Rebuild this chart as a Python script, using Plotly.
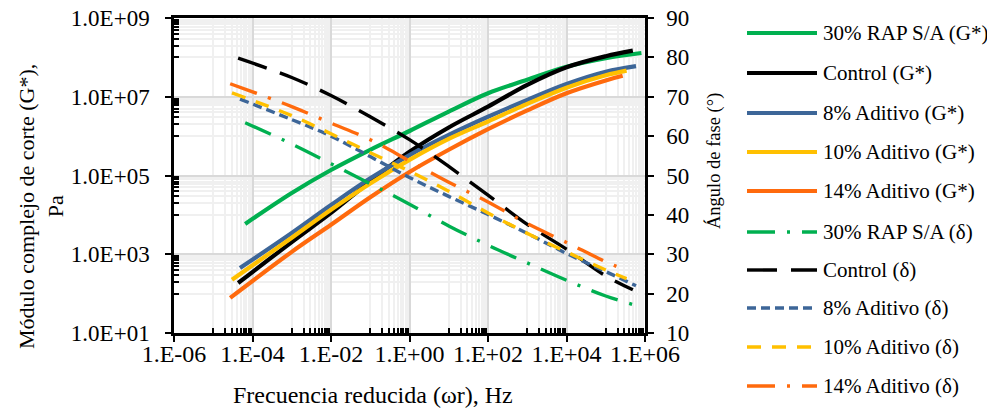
import plotly.graph_objects as go

# ---------------- data ----------------
freq_rap = [6.5e-5, 1e-3, 1e-2, 1e-1, 1e0, 1e1, 1e2, 1e3, 1e4, 1e5, 8.1e5]
freq_control = [4.3e-5, 1e-3, 1e-2, 1e-1, 1e0, 1e1, 1e2, 1e3, 1e4, 1e5, 4.9e5]
freq_a8 = [4.8e-5, 1e-3, 1e-2, 1e-1, 1e0, 1e1, 1e2, 1e3, 1e4, 1e5, 5.9e5]
freq_a10 = [3.0e-5, 1e-3, 1e-2, 1e-1, 1e0, 1e1, 1e2, 1e3, 1e4, 1e5, 3.4e5]
freq_a14 = [2.7e-5, 1e-3, 1e-2, 1e-1, 1e0, 1e1, 1e2, 1e3, 1e4, 1e5, 2.7e5]

g_rap = [5.9e3, 3.6e4, 1.38e5, 4.5e5, 1.35e6, 4.2e6, 1.23e7, 2.7e7, 5.75e7, 9.5e7, 1.29e8]
g_control = [186, 2.04e3, 1.12e4, 7.1e4, 4.0e5, 1.66e6, 5.6e6, 2.0e7, 5.6e7, 1.07e8, 1.48e8]
g_a8 = [447, 3.47e3, 1.78e4, 8.5e4, 3.3e5, 1.07e6, 3.1e6, 8.3e6, 2.1e7, 4.3e7, 6.0e7]
g_a10 = [224, 2.63e3, 1.35e4, 6.3e4, 2.5e5, 8.5e5, 2.35e6, 6.6e6, 1.7e7, 3.5e7, 4.6e7]
g_a14 = [78, 1.15e3, 5.6e3, 2.8e4, 1.23e5, 4.5e5, 1.5e6, 4.5e6, 1.23e7, 2.6e7, 3.4e7]

d_rap = [63.4, 58.0, 53.0, 47.9, 42.7, 37.2, 32.3, 27.8, 23.4, 19.4, 16.6]
d_control = [79.8, 74.9, 70.3, 64.9, 59.1, 52.3, 45.0, 37.6, 31.3, 24.5, 21.0]
d_a8 = [69.4, 64.2, 60.0, 54.8, 49.5, 44.7, 40.1, 35.3, 30.2, 25.6, 22.0]
d_a10 = [71.0, 65.2, 60.6, 55.8, 51.1, 46.0, 40.5, 35.3, 30.6, 26.0, 23.8]
d_a14 = [73.3, 67.5, 63.3, 59.1, 53.7, 48.3, 43.3, 37.8, 33.0, 28.1, 26.3]

x_tickvals = [1e-6, 1e-4, 1e-2, 1e0, 1e2, 1e4, 1e6]
x_ticktext = ["1.E-06", "1.E-04", "1.E-02", "1.E+00", "1.E+02", "1.E+04", "1.E+06"]
y_tickvals = [1e1, 1e3, 1e5, 1e7, 1e9]
y_ticktext = ["1.0E+01", "1.0E+03", "1.0E+05", "1.0E+07", "1.0E+09"]

names_g = ["30% RAP S/A (G*)", "Control (G*)", "8% Aditivo (G*)", "10% Aditivo (G*)", "14% Aditivo (G*)"]
names_d = ["30% RAP S/A (δ)", "Control (δ)", "8% Aditivo (δ)", "10% Aditivo (δ)", "14% Aditivo (δ)"]

# ---------------- style ----------------
FONT = "Liberation Serif"
colors = ["#00B050", "#000000", "#3D6698", "#FFC000", "#FF6A0D"]
dashes = ["28px,12px,3px,12px", "30px,14px", "9px,5px", "14px,11px", "28px,12px,3px,12px"]
GW = 4.2
DW = 3.4

# page body has an 8px margin; positions below are screen pixels of the reference
OFF = 8
W, H = 995 - OFF, 411 - OFF
L, R, T, B = 174 - OFF, 645 - OFF, 18 - OFF, 333 - OFF

freqs = [freq_rap, freq_control, freq_a8, freq_a10, freq_a14]
gs = [g_rap, g_control, g_a8, g_a10, g_a14]
ds = [d_rap, d_control, d_a8, d_a10, d_a14]

fig = go.Figure()
for i in range(5):
    fig.add_trace(go.Scatter(x=freqs[i], y=gs[i], mode="lines", name=names_g[i],
                             line=dict(color=colors[i], width=GW, shape="spline", smoothing=1.0),
                             showlegend=False))
for i in range(5):
    fig.add_trace(go.Scatter(x=freqs[i], y=ds[i], mode="lines", name=names_d[i], yaxis="y2",
                             line=dict(color=colors[i], width=DW, dash=dashes[i], shape="spline", smoothing=1.0),
                             showlegend=False))

minor_x = [j * 10.0 ** e for e in (-5, -3, -1, 1, 3, 5) for j in range(1, 10)]
minor_y = [j * 10.0 ** e for e in (2, 4, 6, 8) for j in range(1, 10)]

def f(size):
    return dict(family=FONT, size=size, color="#000000")

fig.update_layout(
    width=W, height=H,
    margin=dict(l=L, r=W - R, t=T, b=H - B),
    paper_bgcolor="white", plot_bgcolor="white",
    font=f(21),
    showlegend=False,
    xaxis=dict(type="log", range=[-6, 6], tickvals=x_tickvals, ticktext=x_ticktext, automargin=False,
               tickfont=f(24), showline=True, linecolor="black", linewidth=2.5, mirror=True,
               ticks="outside", ticklen=6, tickwidth=2, tickcolor="black", ticklabelstandoff=-9,
               ticklabeloverflow="allow",
               showgrid=True, gridcolor="#D9D9D9", gridwidth=2, zeroline=False,
               minor=dict(tickvals=minor_x, ticks="inside", ticklen=5, tickwidth=1.5, tickcolor="black",
                          showgrid=True, gridcolor="#F0F0F0", gridwidth=2)),
    yaxis=dict(type="log", range=[1, 9], tickvals=y_tickvals, ticktext=y_ticktext, automargin=False,
               tickfont=f(23), showline=True, linecolor="black", linewidth=2.5, mirror=True,
               ticks="outside", ticklen=6, tickwidth=2, tickcolor="black", ticklabelstandoff=11,
               ticklabeloverflow="allow",
               showgrid=True, gridcolor="#D9D9D9", gridwidth=2, zeroline=False,
               minor=dict(tickvals=minor_y, ticks="inside", ticklen=5, tickwidth=1.5, tickcolor="black",
                          showgrid=True, gridcolor="#F0F0F0", gridwidth=2)),
    yaxis2=dict(overlaying="y", side="right", range=[10, 90], dtick=10, tick0=10, automargin=False,
                tickfont=f(23), showline=True, linecolor="black", linewidth=2.5,
                ticks="outside", ticklen=6, tickwidth=2, tickcolor="black", ticklabelstandoff=8,
                ticklabeloverflow="allow",
                showgrid=False, zeroline=False),
)

def px_x(p):
    return (p - OFF - L) / (R - L)

def px_y(p):
    return (B - (p - OFF)) / (B - T)

annotations = [
    dict(text="Módulo complejo de corte (G*),<br>Pa", xref="paper", yref="paper",
         x=px_x(41), y=px_y(207), xanchor="center", yanchor="middle", textangle=-90,
         showarrow=False, font=f(22)),
    dict(text="Ángulo de fase (°)", xref="paper", yref="paper",
         x=px_x(714), y=px_y(161), xanchor="center", yanchor="middle", textangle=-90,
         showarrow=False, font=f(18.5)),
    dict(text="Frecuencia reducida (ωr), Hz", xref="paper", yref="paper",
         x=px_x(373), y=px_y(395), xanchor="center", yanchor="middle",
         showarrow=False, font=f(24)),
]
shapes = []
legend_rows = [33, 73, 113, 152, 191, 232, 270, 308, 347, 386]
all_names = names_g + names_d
for k in range(10):
    i = k % 5
    yy = px_y(legend_rows[k])
    if k < 5:
        ln = dict(color=colors[i], width=GW)
    else:
        ln = dict(color=colors[i], width=DW, dash=dashes[i])
    shapes.append(dict(type="line", xref="paper", yref="paper", x0=px_x(747), x1=px_x(817),
                       y0=yy, y1=yy, line=ln))
    annotations.append(dict(text=all_names[k], xref="paper", yref="paper", x=px_x(821), y=yy,
                            xanchor="left", yanchor="middle", showarrow=False, font=f(21)))

fig.update_layout(annotations=annotations, shapes=shapes)
fig.write_html("out.html")
